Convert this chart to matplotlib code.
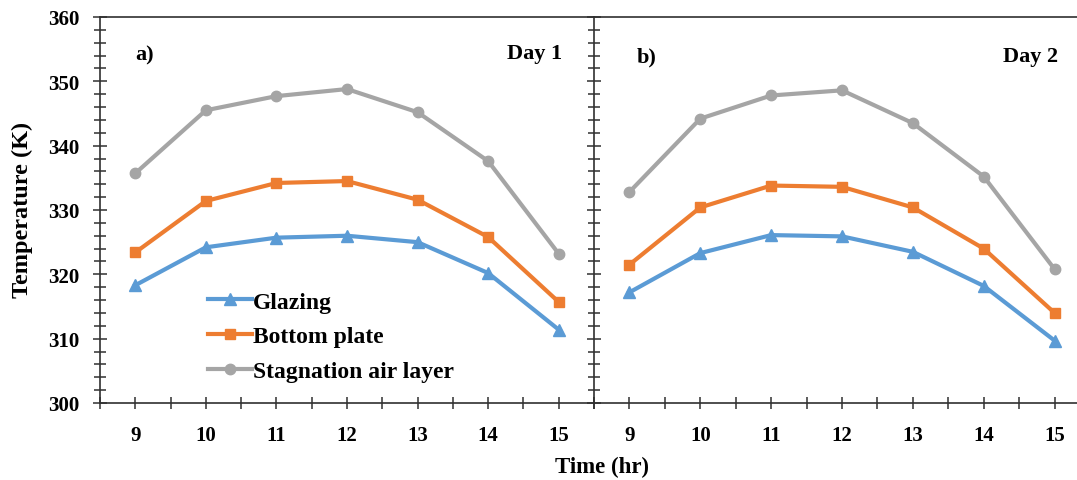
import matplotlib
matplotlib.use("Agg")
import matplotlib.pyplot as plt
from matplotlib.ticker import MultipleLocator

hours = [9, 10, 11, 12, 13, 14, 15]

# Day 1
glazing_d1 = [318.3, 324.2, 325.7, 326.0, 325.0, 320.2, 311.4]
bottom_d1 = [323.4, 331.4, 334.2, 334.5, 331.6, 325.8, 315.7]
stagnation_d1 = [335.7, 345.5, 347.7, 348.8, 345.2, 337.6, 323.2]

# Day 2
glazing_d2 = [317.2, 323.3, 326.1, 325.9, 323.5, 318.2, 309.7]
bottom_d2 = [321.5, 330.4, 333.8, 333.6, 330.4, 324.0, 314.0]
stagnation_d2 = [332.8, 344.2, 347.8, 348.6, 343.5, 335.2, 320.8]

series_names = ["Glazing", "Bottom plate", "Stagnation air layer"]
colors = ["#5B9BD5", "#ED7D31", "#A5A5A5"]
markers = ["^", "s", "o"]
marker_sizes = [9, 7, 7.5]

panel_tags = ["a)", "b)"]
day_labels = ["Day 1", "Day 2"]

plt.rcParams["font.family"] = ["Liberation Serif", "DejaVu Serif"]
plt.rcParams["font.weight"] = "bold"

W, H = 1077, 481
fig = plt.figure(figsize=(W / 100, H / 100), dpi=100)

x0, xm, x1 = 100, 594, 1090
ytop, ybot = 18, 404
ax_a = fig.add_axes([x0 / W, (H - ybot) / H, (xm - x0) / W, (ybot - ytop) / H])
ax_b = fig.add_axes([xm / W, (H - ybot) / H, (x1 - xm) / W, (ybot - ytop) / H])

spine_col = "#303030"
data = [
    (glazing_d1, bottom_d1, stagnation_d1),
    (glazing_d2, bottom_d2, stagnation_d2),
]

# pixel helpers for annotation placement
def fx(px):
    return px / W

def fy(py):
    return 1 - py / H

for i, (ax, vals) in enumerate(zip([ax_a, ax_b], data)):
    for v, name, c, m, ms in zip(vals, series_names, colors, markers, marker_sizes):
        ax.plot(hours, v, color=c, lw=3, marker=m, ms=ms, mec=c, mfc=c,
                label=name, solid_joinstyle="round")
    ax.set_xlim(8.5, 15.5)
    ax.set_ylim(300, 360)
    ax.xaxis.set_major_locator(MultipleLocator(1))
    ax.xaxis.set_minor_locator(MultipleLocator(0.5))
    ax.yaxis.set_major_locator(MultipleLocator(10))
    ax.yaxis.set_minor_locator(MultipleLocator(2))
    ax.tick_params(axis="x", which="both", direction="inout", length=9,
                   width=1.1, color=spine_col, labelsize=15, pad=11)
    ax.tick_params(axis="y", which="major", direction="inout", length=10,
                   width=1.1, color=spine_col, labelsize=15, pad=10)
    ax.tick_params(axis="y", which="minor", direction="inout", length=8,
                   width=1.1, color=spine_col)
    for s in ["left", "bottom", "top"]:
        ax.spines[s].set_color(spine_col)
        ax.spines[s].set_linewidth(1.2)
    ax.spines["right"].set_visible(False)
    for lab in ax.get_xticklabels() + ax.get_yticklabels():
        lab.set_fontweight("bold")

ax_b.tick_params(axis="y", which="both", labelleft=False)

fig.text(fx(135), fy(55), panel_tags[0], fontsize=16, fontweight="bold",
         ha="left", va="center")
fig.text(fx(637), fy(57), panel_tags[1], fontsize=16, fontweight="bold",
         ha="left", va="center")
fig.text(fx(562), fy(54), day_labels[0], fontsize=16, fontweight="bold",
         ha="right", va="center")
fig.text(fx(1058), fy(57), day_labels[1], fontsize=16, fontweight="bold",
         ha="right", va="center")

fig.text(fx(22), fy(210), "Temperature (K)", fontsize=17.5, fontweight="bold",
         ha="center", va="center", rotation=90)
fig.text(fx(xm + 8), fy(467), "Time (hr)", fontsize=16.5, fontweight="bold",
         ha="center", va="center")

ax_a.legend(loc="upper left",
            bbox_to_anchor=((208 - x0) / (xm - x0), (404 - 292) / (ybot - ytop)),
            frameon=False, handlelength=1.85, handletextpad=0.05,
            labelspacing=0.56, borderaxespad=0, borderpad=0,
            prop={"weight": "bold", "size": 17})

fig.savefig("out.png", dpi=100)
